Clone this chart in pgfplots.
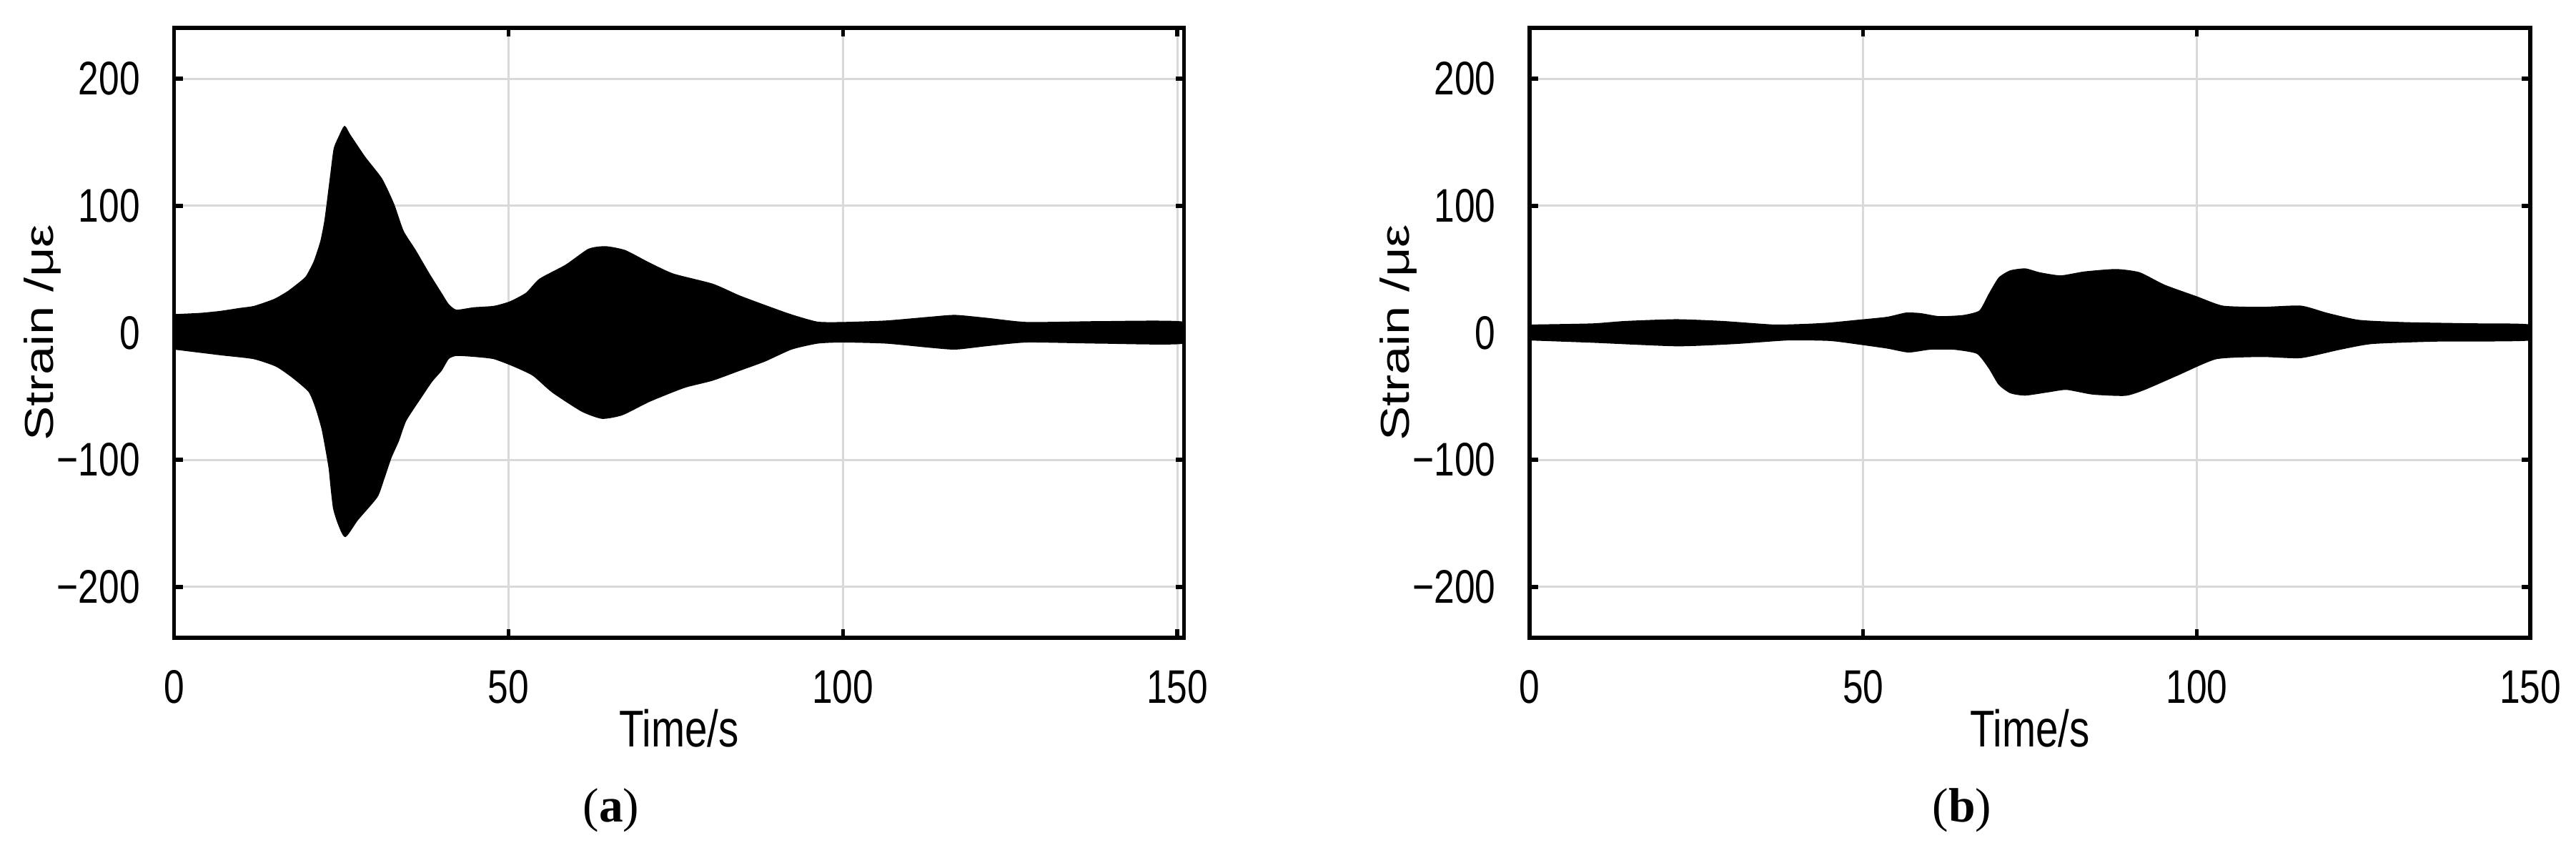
\documentclass[border=0pt]{standalone}
\usepackage{fontspec}
\setmainfont{Liberation Sans}
\newfontfamily\capfont{Liberation Serif}
\usepackage{graphicx}
\usepackage{pgfplots}
\pgfplotsset{compat=1.18}

% the source figure was stretched vertically: tall, narrow lettering
\newcommand{\vs}[1]{\scalebox{1}[1.28]{#1}}
\newcommand{\hs}[1]{\scalebox{1.28}[1]{#1}}

\pgfplotsset{
    strainax/.style={
        scale only axis,
        height=170.6pt,
        anchor=south west,
        ymin=-240, ymax=240,
        xmin=0,
        xtick={0,50,100,150},
        xticklabels={\vs{0},\vs{50},\vs{100},\vs{150}},
        ytick={-200,-100,0,100,200},
        yticklabels={\vs{−200},\vs{−100},\vs{0},\vs{100},\vs{200}},
        grid=major,
        major grid style={gray!30, line width=0.6pt},
        axis line style={line width=1.1pt},
        tick style={black, line width=1.1pt},
        major tick length=2.4pt,
        tick align=inside,
        tick label style={font=\fontsize{10.3}{12}\selectfont},
        xticklabel style={yshift=-5.5pt},
        yticklabel style={xshift=-6pt},
        label style={font=\fontsize{11.3}{13}\selectfont},
        xlabel={\vs{Time/s}},
        ylabel={\hs{Strain /με}},
        xlabel style={at={(axis description cs:0.5,-0.148)}, anchor=center},
    },
    env/.style={fill=black, draw=black, line width=0.5pt, smooth, tension=0.35},
}

\begin{document}
\begin{tikzpicture}
\useasboundingbox (0,0) rectangle (720.8pt,242.8pt);

% (a)
\begin{axis}[strainax,
    at={(48.7pt,64.4pt)}, width=282.6pt, xmax=151,
    ylabel style={at={(axis description cs:-0.13,0.5)}, anchor=center},
]
\addplot[env] coordinates {
    (0,14) (4,15) (7,16.6) (10,19) (12,20.5) (15,26) (17,32) (18.5,38)
    (19.8,44) (21,56) (22,72) (22.6,88) (23,104) (23.5,125) (24,145)
    (24.8,155) (25.5,162) (26.2,156) (28.5,138) (31,121) (32.8,101)
    (34.2,80) (36,65) (38,47) (39.9,31) (41,22) (42.2,17.5) (44.8,19.4)
    (47.8,20.5) (50.2,24) (52.7,31) (54.7,42) (58.6,53) (62,65.5)
    (64.5,67.5) (67.4,64.5) (70.9,55) (74.6,46) (80.5,38) (84.4,29)
    (88.3,21.3) (92.3,13.8) (96.2,8.1) (100,7.8) (106.5,9) (112.9,11.9)
    (116.8,13.4) (121.7,11) (127.6,7.8) (138.5,8.5) (151,8)
    (151,-7.8) (138.5,-7.8) (127.6,-6.9) (121.7,-9.7) (116.8,-12.5)
    (112.9,-11) (106.5,-7.8) (100,-6.9) (96.2,-7.8) (92.3,-12.5)
    (88.3,-22) (84.4,-29.5) (80.5,-37) (76.7,-42) (74.6,-46) (70.9,-54)
    (67,-64.2) (64,-67) (61,-61.4) (56.6,-46.4) (53.7,-33.2) (50.7,-25.7)
    (47.8,-20) (44.8,-18.2) (42.2,-17.5) (41,-20) (39.9,-29.5) (38.5,-38)
    (36.7,-52) (34.6,-69) (33.5,-85) (32.4,-98) (31.3,-115) (30.3,-129)
    (27.4,-147) (25.6,-160) (24.6,-150) (23.9,-138) (23.5,-120)
    (23.2,-105) (22.2,-76) (21.2,-58) (20.2,-46) (17.8,-35) (15.3,-26)
    (11.9,-20) (7,-17) (0,-12.5)
} -- cycle;
\end{axis}

% (b)
\begin{axis}[strainax,
    at={(428pt,64.4pt)}, width=280pt, xmax=150,
    ylabel style={at={(axis description cs:-0.131,0.5)}, anchor=center},
]
\addplot[env] coordinates {
    (0,5.8) (9.4,6.7) (14.3,8.6) (22,10) (29,8.6) (36.7,5.8) (42,6.5)
    (45,7.4) (49.3,9.6) (53.6,11.9) (56.4,15.2) (58.6,14.8) (61.4,12.4)
    (65,13.3) (67.5,17) (68.9,30) (70.4,43) (72.1,48.5) (74.3,50)
    (76.4,47) (79.6,44.5) (83.2,47.6) (87.9,49.5) (91.4,47) (95.1,37.3)
    (100,28) (103.9,20.7) (109.7,19.7) (115.6,20.7) (119.5,15.1)
    (124.3,9.5) (131.2,7.7) (140.9,6.8) (150,5.8)
    (150,-5.3) (136,-6.2) (126.3,-8.1) (121.4,-12.7) (115.6,-19.2)
    (109.7,-18.3) (102.9,-20.1) (97.1,-33) (92.2,-44.2) (89.3,-48.9)
    (84.4,-47.9) (80.5,-44.2) (77.9,-46) (74.3,-48.7) (72.1,-46.9)
    (70.4,-40.4) (68.9,-27.4) (67.1,-15.9) (63.6,-12.6) (60,-12.6)
    (56.8,-14.8) (53.6,-11.7) (49.3,-8.5) (45,-5.7) (38.7,-5.3)
    (30.9,-8.1) (22.1,-9.9) (9.4,-7.1) (0,-5.3)
} -- cycle;
\end{axis}

\node[font=\capfont\fontsize{13.5}{15}\selectfont] at (171pt,16.2pt) {(\textbf{a})};
\node[font=\capfont\fontsize{13.5}{15}\selectfont] at (549pt,16.2pt) {(\textbf{b})};
\end{tikzpicture}
\end{document}
